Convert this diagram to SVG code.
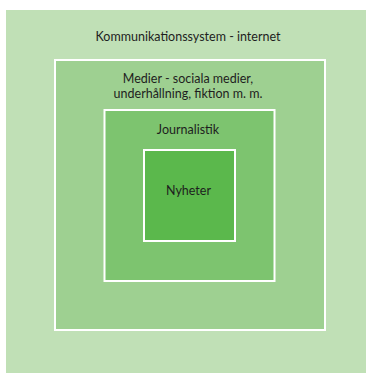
<svg xmlns="http://www.w3.org/2000/svg" width="366" height="373" viewBox="0 0 366 373">
<style>
.box{stroke:#ffffff;stroke-width:2}
.t{font-family:Lato,"Open Sans","Liberation Sans",sans-serif;font-size:12.5px;fill:#1e1e1e;text-anchor:middle}
</style>
<rect x="0" y="0" width="366" height="373" fill="#ffffff"/>
<g id="kommunikationssystem">
<rect x="6" y="10" width="362" height="365" fill="#c0e0b6"/>
<text class="t" x="188" y="41">Kommunikationssystem - internet</text>
</g>
<g id="medier">
<rect class="box" x="55" y="60" width="270" height="270" fill="#9ed091"/>
<text class="t" x="188" y="83">Medier - sociala medier,</text>
<text class="t" x="188" y="98">underhållning, fiktion m. m.</text>
</g>
<g id="journalistik">
<rect class="box" x="104.5" y="110" width="170" height="171" fill="#7dc46f"/>
<text class="t" x="188" y="134">Journalistik</text>
</g>
<g id="nyheter">
<rect class="box" x="144" y="150" width="91" height="91" fill="#5bb84c"/>
<text class="t" x="188.5" y="195">Nyheter</text>
</g>
<g id="connectors"></g>
</svg>
